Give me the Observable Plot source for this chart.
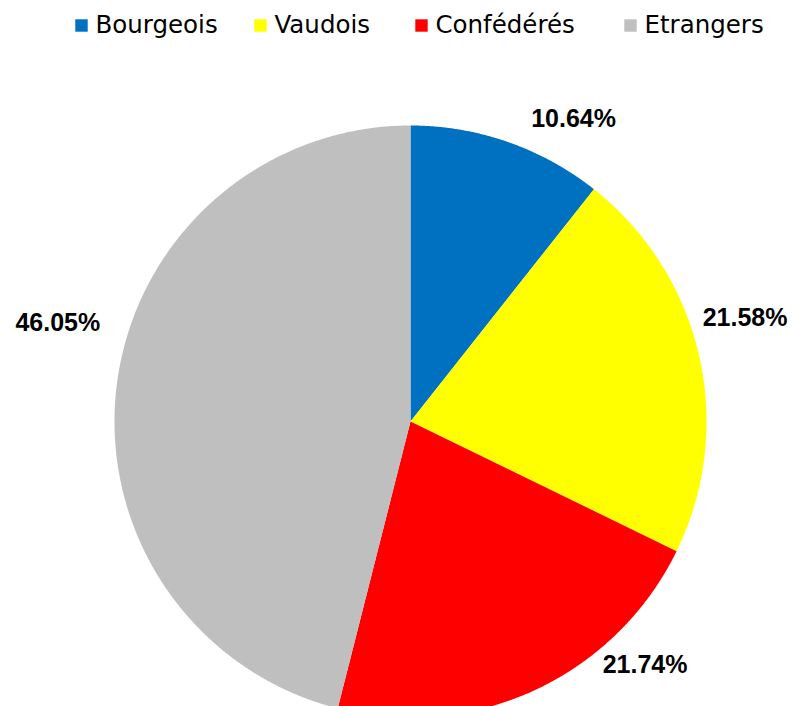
<!DOCTYPE html>
<html><head><meta charset="utf-8">
<script src="https://cdn.jsdelivr.net/npm/d3@7"></script>
<script src="https://cdn.jsdelivr.net/npm/@observablehq/plot@0.6"></script>
<style>body{margin:0;background:#fff}svg{display:block}</style></head>
<body><div id="chart"></div>
<script>
const categories = ["Bourgeois", "Vaudois", "Confédérés", "Etrangers"];
const shares = [10.64, 21.58, 21.74, 46.05];
const labels = ["10.64%", "21.58%", "21.74%", "46.05%"];
const colors = ["#0070C0", "#FFFF00", "#FF0000", "#BFBFBF"];

// layout constants (pixels)
const W = 793, H = 706, cx = 410, cy = 421, R = 296;
const labelNudge = [[66, -23], [46, -38], [110, -25], [-59, -62]];
const legendX = [74, 253, 414, 623];
const legendY = 25;

const total = d3.sum(shares);
let acc = 0;
const slices = categories.map((c, i) => {
  const a0 = acc / total * 2 * Math.PI; acc += shares[i];
  const a1 = acc / total * 2 * Math.PI;
  return {c, a0, a1, i};
});
const pts = [];
for (const s of slices) {
  pts.push({c: s.c, x: cx, y: cy});
  const n = Math.ceil((s.a1 - s.a0) / 0.004);
  for (let k = 0; k <= n; k++) {
    const a = s.a0 + (s.a1 - s.a0) * k / n;
    pts.push({c: s.c, x: cx + R * Math.sin(a), y: cy - R * Math.cos(a)});
  }
  pts.push({c: s.c, x: cx, y: cy});
}
const labelData = slices.map(s => {
  const m = (s.a0 + s.a1) / 2;
  return {t: labels[s.i], x: cx + R * Math.sin(m) + labelNudge[s.i][0], y: cy - R * Math.cos(m) + labelNudge[s.i][1]};
});
const legendData = categories.map((c, i) => ({c, x: legendX[i], y: legendY}));

const chart = Plot.plot({
  width: W, height: H, margin: 0,
  x: {domain: [0, W], range: [0, W], axis: null},
  y: {domain: [0, H], range: [0, H], axis: null},
  color: {domain: categories, range: colors},
  style: {fontFamily: "'DejaVu Sans', sans-serif", background: "#fff"},
  marks: [
    Plot.line(pts, {x: "x", y: "y", z: "c", fill: "c", stroke: null, curve: "linear"}),
    Plot.text(labelData, {x: "x", y: "y", text: "t", fontSize: 25, fontWeight: "bold", fill: "#000", textAnchor: "middle", fontFamily: "'Liberation Sans', Arial, sans-serif"}),
    Plot.dot(legendData, {x: d => d.x + 7, y: "y", symbol: "square", r: 7, fill: "c", stroke: null}),
    Plot.text(legendData, {x: d => d.x + 21, y: "y", text: "c", textAnchor: "start", fontSize: 24.5, fill: "#000"})
  ]
});
document.getElementById("chart").append(chart);
</script>
</body></html>
